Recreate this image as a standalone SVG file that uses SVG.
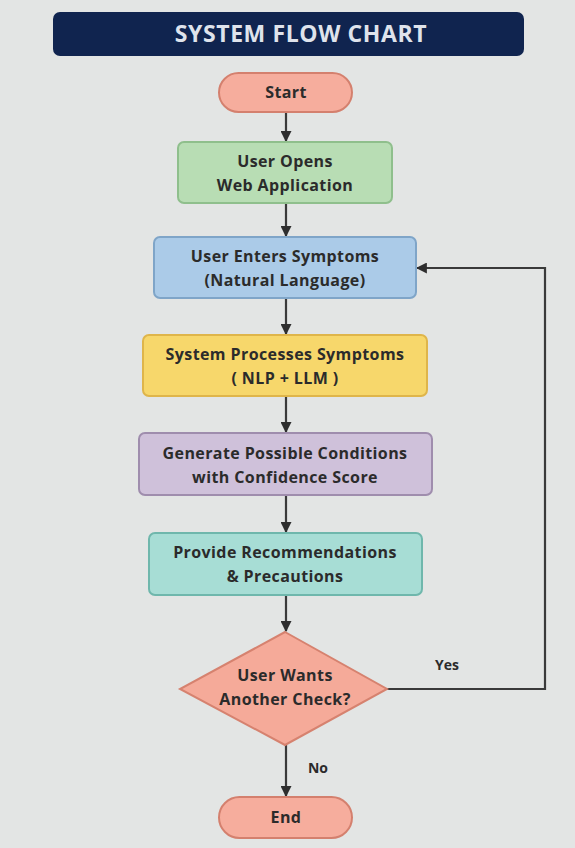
<svg xmlns="http://www.w3.org/2000/svg" width="575" height="848" viewBox="0 0 575 848">
<defs>
<style>
.t{font-family:"Open Sans","Liberation Sans",Arial,sans-serif;font-weight:bold;font-size:16px;letter-spacing:0.4px;fill:#2b2b2b;text-anchor:middle}
.c{fill:none;stroke:#3a3a3a;stroke-width:2.2}
.lbl{font-family:"Open Sans","Liberation Sans",Arial,sans-serif;font-weight:bold;font-size:14px;fill:#2b2b2b;text-anchor:middle}
</style>
<marker id="ah" viewBox="0 0 10 10" refX="9" refY="5" markerWidth="5" markerHeight="5" orient="auto-start-reverse" markerUnits="strokeWidth">
<path d="M0,0 L10,5 L0,10 z" fill="#2e2e2e"/>
</marker>
</defs>
<rect x="0" y="0" width="575" height="848" fill="#e3e5e4"/>
<g id="title">
<rect x="53" y="12" width="471" height="44" rx="7" fill="#10244f"/>
<text x="301" y="42" font-family="Open Sans,Liberation Sans,Arial,sans-serif" font-weight="bold" font-size="23" letter-spacing="0.6" fill="#dfe3ec" text-anchor="middle">SYSTEM FLOW CHART</text>
</g>
<g id="connectors">
<line class="c" x1="286" y1="112" x2="286" y2="141" marker-end="url(#ah)"/>
<line class="c" x1="286" y1="203" x2="286" y2="236" marker-end="url(#ah)"/>
<line class="c" x1="286" y1="298" x2="286" y2="334" marker-end="url(#ah)"/>
<line class="c" x1="286" y1="396" x2="286" y2="432" marker-end="url(#ah)"/>
<line class="c" x1="286" y1="495" x2="286" y2="532" marker-end="url(#ah)"/>
<line class="c" x1="286" y1="595" x2="286" y2="631" marker-end="url(#ah)"/>
<line class="c" x1="286" y1="745" x2="286" y2="796" marker-end="url(#ah)"/>
<polyline class="c" points="387,689 545,689 545,268 417,268" marker-end="url(#ah)"/>
<text class="lbl" x="447" y="670">Yes</text>
<text class="lbl" x="318" y="773">No</text>
</g>
<g id="start">
<rect x="219" y="73" width="133" height="39" rx="19.5" fill="#f6ad9d" stroke="#d4806e" stroke-width="2"/>
<text class="t" x="286" y="98">Start</text>
</g>
<g id="open">
<rect x="178" y="142" width="214" height="61" rx="6" fill="#b8ddb4" stroke="#8fbf8c" stroke-width="2"/>
<text class="t" x="285" y="167">User Opens</text>
<text class="t" x="285" y="191">Web Application</text>
</g>
<g id="enter">
<rect x="154" y="237" width="262" height="61" rx="6" fill="#abcbe8" stroke="#7fa5c8" stroke-width="2"/>
<text class="t" x="285" y="262">User Enters Symptoms</text>
<text class="t" x="285" y="286">(Natural Language)</text>
</g>
<g id="process">
<rect x="143" y="335" width="284" height="61" rx="6" fill="#f7d76b" stroke="#dfb54a" stroke-width="2"/>
<text class="t" x="285" y="360">System Processes Symptoms</text>
<text class="t" x="285" y="384">( NLP + LLM )</text>
</g>
<g id="generate">
<rect x="139" y="433" width="293" height="62" rx="6" fill="#cfc1da" stroke="#9f8dad" stroke-width="2"/>
<text class="t" x="285" y="459">Generate Possible Conditions</text>
<text class="t" x="285" y="483">with Confidence Score</text>
</g>
<g id="recommend">
<rect x="149" y="533" width="273" height="62" rx="6" fill="#a7ddd5" stroke="#6fb7ac" stroke-width="2"/>
<text class="t" x="285" y="558">Provide Recommendations</text>
<text class="t" x="285" y="582">&amp; Precautions</text>
</g>
<g id="decision">
<polygon points="285,632 387,689 285,745 180,689" fill="#f5aa99" stroke="#d6826f" stroke-width="2"/>
<text class="t" x="285" y="681">User Wants</text>
<text class="t" x="285" y="705">Another Check?</text>
</g>
<g id="end">
<rect x="219" y="797" width="133" height="41" rx="20.5" fill="#f6ad9d" stroke="#d4806e" stroke-width="2"/>
<text class="t" x="286" y="823">End</text>
</g>
</svg>
